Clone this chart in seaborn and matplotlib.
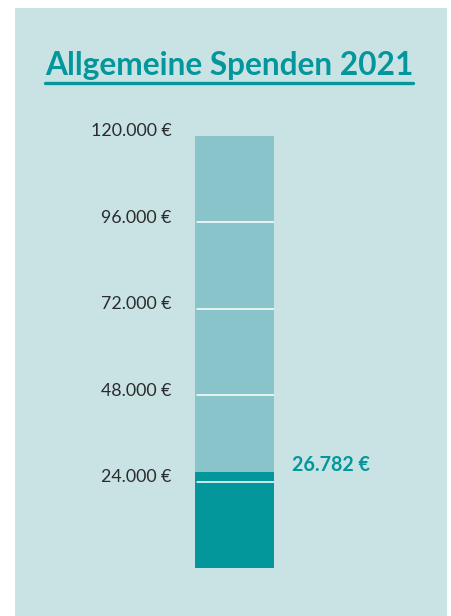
import matplotlib
matplotlib.use("Agg")
import matplotlib.pyplot as plt
import matplotlib.transforms as mtransforms
from matplotlib.patches import Rectangle
from matplotlib.lines import Line2D
import seaborn as sns
import pandas as pd

# Daten
titel = "Allgemeine Spenden 2021"
ziel = 120000
spenden = 26782
ticks = [24000, 48000, 72000, 96000, 120000]
tick_labels = ["24.000 €", "48.000 €", "72.000 €", "96.000 €", "120.000 €"]
wert_label = "26.782 €"

teal = "#03979C"
hell = "#89C4CB"
panel = "#C9E3E5"
text_dunkel = "#2B2B2B"

sns.set_style("white")
plt.rcParams["font.family"] = ["Lato", "DejaVu Sans"]

W, H = 452, 616
fig = plt.figure(figsize=(W / 100, H / 100), dpi=100)
fig.patch.set_facecolor("white")

# Hintergrund-Panel
fig.patches.append(Rectangle((15 / W, 0), (447 - 15) / W, (H - 8) / H,
                             transform=fig.transFigure, facecolor=panel,
                             edgecolor="none", zorder=-5))

# Achse für den Balken
ax = fig.add_axes([195 / W, (H - 568) / H, (274 - 195) / W, (568 - 136) / H])
ax.set_facecolor("none")
ax.set_zorder(2)

df = pd.DataFrame({"x": ["Spenden"], "ziel": [ziel], "wert": [spenden]})
sns.barplot(data=df, x="x", y="ziel", color=hell, width=1.0, saturation=1,
            linewidth=0, ax=ax, zorder=1)
sns.barplot(data=df, x="x", y="wert", color=teal, width=1.0, saturation=1,
            linewidth=0, ax=ax, zorder=2)

ax.set_xlim(-0.5, 0.5)
ax.set_ylim(0, ziel)
for t in ticks[:-1]:
    ax.axhline(t, xmin=0.03, xmax=1, color="white", lw=1.1, zorder=3)

for s in ax.spines.values():
    s.set_visible(False)
ax.set_xticks([])
ax.set_xlabel("")
ax.set_ylabel("")
ax.set_yticks(ticks)
ax.set_yticklabels(tick_labels)
ax.tick_params(axis="y", length=0, pad=17, labelsize=12.8, labelcolor=text_dunkel)
off = mtransforms.ScaledTranslation(0, 6 / 100, fig.dpi_scale_trans)
for lab in ax.get_yticklabels():
    lab.set_transform(lab.get_transform() + off)

# Wertbeschriftung
ax.annotate(wert_label, xy=(0.5, spenden), xytext=(13, 5),
            textcoords="offset points", xycoords=("data", "data"),
            ha="left", va="center", color=teal, fontsize=14.2,
            fontweight="bold", annotation_clip=False)

# Titel mit Unterstreichung
fig.text(229 / W, 1 - 65 / H, titel, ha="center", va="center", color=teal,
         fontsize=22.8, fontweight="bold")
fig.lines.append(Line2D([45 / W, 413 / W], [1 - 82.5 / H, 1 - 82.5 / H],
                        transform=fig.transFigure, color=teal, lw=2.4))

fig.savefig("out.png", dpi=100)
